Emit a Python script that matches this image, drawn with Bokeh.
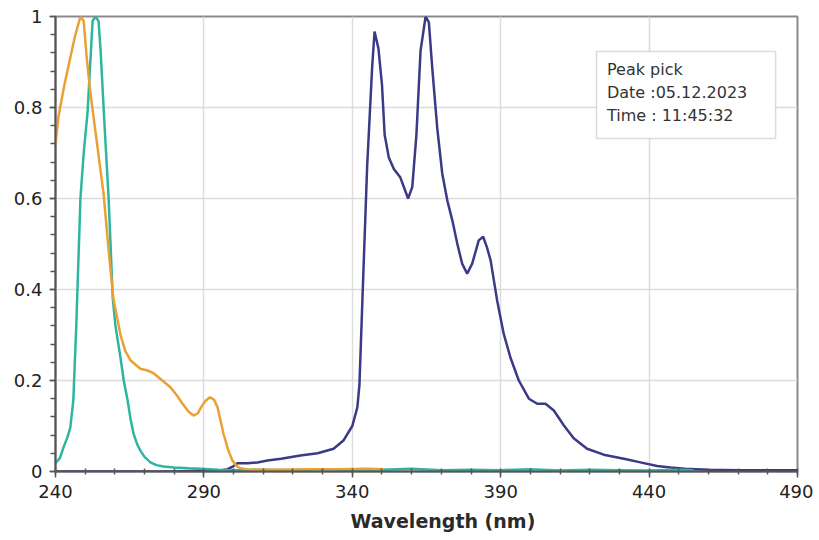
from bokeh.plotting import figure
from bokeh.models import Range1d, FixedTicker, NumeralTickFormatter, BoxAnnotation, Label, Title
from bokeh.embed import file_html
from bokeh.resources import INLINE

# ---- data ----
orange_x = [240, 241, 243, 245, 246.5, 248.4, 249.5, 250.5, 251.8, 254, 256.2, 258, 259.5, 261.9, 263.5,
            265.3, 268.6, 271, 273, 276, 278.7, 280.8, 282.8, 284.8, 286.5, 288, 289, 290.5, 292, 293.4,
            294.6, 296.6, 298.3, 299.6, 301, 302.3, 305, 315, 325, 335, 345, 350.5]
orange_y = [0.72, 0.78, 0.85, 0.91, 0.955, 1.0, 0.99, 0.91, 0.83, 0.72, 0.61, 0.48, 0.38, 0.30, 0.265,
            0.244, 0.226, 0.222, 0.216, 0.20, 0.185, 0.168, 0.149, 0.132, 0.123, 0.128, 0.141, 0.155, 0.163, 0.158,
            0.141, 0.083, 0.045, 0.024, 0.012, 0.007, 0.004, 0.004, 0.005, 0.005, 0.006, 0.005]

teal_x = [240, 241.5, 242.7, 244, 245, 246, 247, 248.4, 249.5, 250.8, 252.5, 253.5, 254.5, 255.2, 256.2,
          257, 257.9, 258.6, 259.3, 260.2, 261.9, 263, 264.3, 265.3, 266.3, 267.5, 268.6, 270, 272, 274,
          276.4, 280, 285, 289, 295, 300, 310, 320, 330, 340, 350, 360, 370, 380, 390, 400, 410, 420, 430,
          440, 450, 455]
teal_y = [0.018, 0.03, 0.053, 0.075, 0.097, 0.156, 0.32, 0.6, 0.7, 0.79, 0.99, 1.0, 0.99, 0.925, 0.8,
          0.705, 0.6, 0.49, 0.38, 0.32, 0.25, 0.2, 0.156, 0.115, 0.083, 0.06, 0.046, 0.032, 0.02, 0.014,
          0.011, 0.009, 0.007, 0.006, 0.004, 0.003, 0.004, 0.003, 0.005, 0.003, 0.004, 0.006, 0.003, 0.004,
          0.003, 0.005, 0.002, 0.004, 0.003, 0.002, 0.004, 0.003]

purple_x = [240, 250, 260, 270, 280, 290, 296, 298, 300, 301.3, 304.7, 308, 311.4, 316, 322.5, 328.3,
            333.7, 337, 340, 341.7, 342.4, 343.4, 345, 346.7, 347.5, 348.8, 350, 350.9, 352.3, 354, 356.2,
            358.8, 360.2, 361.6, 363, 364.7, 365.8, 366.9, 368.6, 370.3, 372, 373.7, 375.4, 377, 378.7,
            380.4, 382.6, 384.1, 385.4, 386.6, 388.8, 391, 393.3, 396.1, 399.5, 402.3, 405.1, 407.9, 411.3,
            414.6, 419.1, 424.7, 431.5, 437.1, 442.7, 447.2, 452, 460, 470, 480, 490]
purple_y = [0, 0, 0, 0, 0, 0.002, 0.003, 0.005, 0.012, 0.018, 0.018, 0.02, 0.024, 0.028, 0.035, 0.04,
            0.05, 0.068, 0.1, 0.141, 0.19, 0.376, 0.67, 0.89, 0.967, 0.93, 0.85, 0.74, 0.69, 0.665, 0.646,
            0.60, 0.625, 0.74, 0.925, 1.0, 0.987, 0.89, 0.756, 0.655, 0.596, 0.552, 0.50, 0.457, 0.435,
            0.457, 0.508, 0.516, 0.492, 0.464, 0.376, 0.303, 0.25, 0.20, 0.16, 0.149, 0.149, 0.134, 0.101,
            0.073, 0.05, 0.037, 0.028, 0.02, 0.012, 0.009, 0.006, 0.004, 0.003, 0.003, 0.003]

x_ticks = [240, 290, 340, 390, 440, 490]
y_ticks = [0, 0.2, 0.4, 0.6, 0.8, 1]
x_label = "Wavelength (nm)"
note_lines = ["Peak pick", "Date :05.12.2023", "Time : 11:45:32"]

FONT = "DejaVu Sans"

p = figure(width=813, height=538, output_backend="svg", toolbar_location=None,
           x_range=Range1d(x_ticks[0], x_ticks[-1]), y_range=Range1d(y_ticks[0], y_ticks[-1]),
           min_border_left=55, min_border_right=16, min_border_top=16, min_border_bottom=67)
p.background_fill_color = "white"
p.border_fill_color = "white"
p.outline_line_color = "#8a8a8a"
p.outline_line_width = 2

x_minor = [x_ticks[0] + 10 * i for i in range(int((x_ticks[-1] - x_ticks[0]) / 10) + 1)]
y_minor = [round(0.04 * i, 2) for i in range(26)]
p.xaxis.ticker = FixedTicker(ticks=x_ticks, minor_ticks=x_minor)
p.yaxis.ticker = FixedTicker(ticks=y_ticks, minor_ticks=y_minor)
p.yaxis.formatter = NumeralTickFormatter(format="0.[0]")

for ax in (p.xaxis[0], p.yaxis[0]):
    ax.axis_line_color = "#555555"
    ax.axis_line_width = 2
    ax.major_tick_line_color = "#555555"
    ax.minor_tick_line_color = "#555555"
    ax.major_tick_line_width = 1.5
    ax.minor_tick_line_width = 1.5
    ax.major_label_text_font = FONT
    ax.major_label_text_font_size = "18px"
    ax.major_label_text_color = "#222222"

p.xaxis.major_tick_in = 0
p.xaxis.major_tick_out = 6
p.xaxis.minor_tick_in = 3
p.xaxis.minor_tick_out = 3
p.xaxis.major_label_standoff = 7
p.yaxis.major_tick_in = 0
p.yaxis.major_tick_out = 6
p.yaxis.minor_tick_in = 0
p.yaxis.minor_tick_out = 5
p.yaxis.major_label_standoff = 7

p.xgrid.grid_line_color = "#dcdcdc"
p.ygrid.grid_line_color = "#dcdcdc"
p.xgrid.grid_line_width = 1.5
p.ygrid.grid_line_width = 1.5

p.add_layout(Title(text=x_label, align="left", offset=295, text_font=FONT,
                   text_font_size="19px", text_font_style="bold", text_color="#2a2a2a",
                   standoff=14), "below")

p.line(purple_x, purple_y, line_color="#3b3a86", line_width=2.5)
p.line(teal_x, teal_y, line_color="#2db5a0", line_width=2.5)
p.line(orange_x, orange_y, line_color="#e9a035", line_width=2.5)

# note box
p.add_layout(BoxAnnotation(left=422.3, right=482.6, bottom=0.732, top=0.923,
                           fill_color="white", fill_alpha=1, line_color="#8a8a8a", line_width=1.5))
for i, t in enumerate(note_lines):
    p.add_layout(Label(x=425.8, y=0.884 - i * 0.0505, text=t, text_font=FONT, text_font_size="16px",
                       text_baseline="middle", text_color="#333333"))

open("out.html", "w").write(file_html(p, INLINE))
